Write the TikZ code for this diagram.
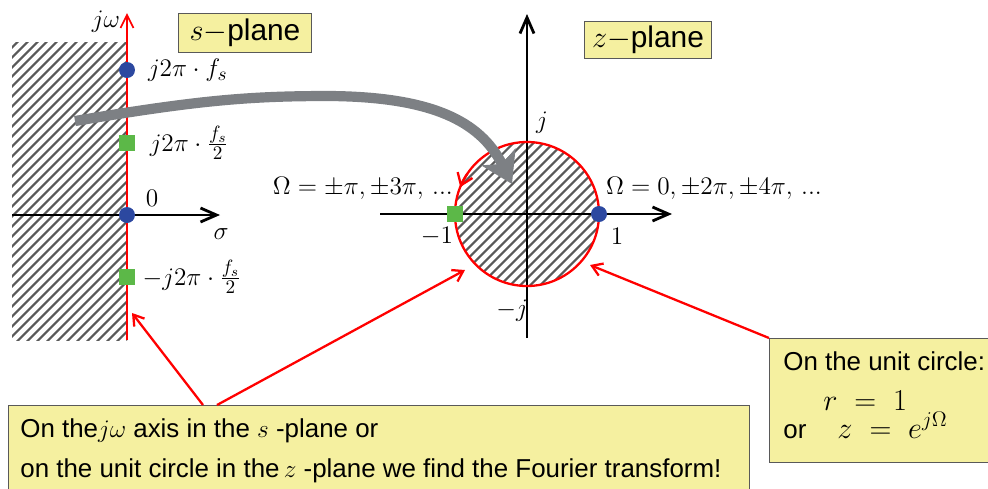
\documentclass[tikz,border=0pt]{standalone}
\usepackage{amsmath,amssymb}
\usepackage{fontspec}
\setsansfont{Liberation Sans}
\usepackage{tikz}
\usetikzlibrary{arrows.meta, positioning, patterns.meta}

\definecolor{boxyellow}{RGB}{245,240,160}
\definecolor{dotblue}{RGB}{44,72,160}
\definecolor{dotgreen}{RGB}{92,184,72}
\definecolor{arrowgray}{RGB}{125,128,132}
\definecolor{hatchgray}{RGB}{90,90,90}

\begin{document}
\begin{tikzpicture}[
        x=0.02cm, y=-0.02cm,
        ybox/.style={
            rectangle,
            draw=black!65,
            line width=0.8pt,
            fill=boxyellow,
            inner sep=0pt,
            font=\sffamily\fontsize{17}{20}\selectfont
        },
        note/.style={
            inner sep=0pt,
            anchor=base west,
            font=\sffamily\fontsize{14.75}{17}\selectfont
        },
        bdot/.style={
            circle,
            fill=dotblue,
            minimum size=3.2mm,
            inner sep=0pt
        },
        gsq/.style={
            rectangle,
            fill=dotgreen,
            minimum size=3.2mm,
            inner sep=0pt
        },
        lbl/.style={
            inner sep=1pt,
            font=\fontsize{13.5}{16}\selectfont
        },
        slbl/.style={
            inner sep=1pt,
            font=\fontsize{15.5}{18}\selectfont
        },
        hatch/.style={
            pattern={Lines[angle=45, distance=4pt, line width=1.3pt]},
            pattern color=hatchgray
        },
        axis/.style={
            line width=1.6pt,
            -{Straight Barb[length=3.2mm, width=2.8mm]}
        },
        raxis/.style={
            red,
            line width=1pt,
            -{Straight Barb[length=2.6mm, width=2.6mm]}
        },
        pointer/.style={
            red,
            line width=1.3pt,
            -{Straight Barb[length=2mm, width=2.6mm]}
        },
        bigarrow/.style={
            arrowgray,
            line width=5.8pt,
            -{Stealth[length=6mm, width=7.5mm, inset=1.5mm]}
        }
        ]

        \useasboundingbox (0,0) rectangle (988,488);
        \clip (0,0) rectangle (988,488);

        % s-plane
        \fill [hatch] (12,42) rectangle (127,340);
        \draw [axis] (12,215) -- (220,215);
        \draw [raxis] (127,340) -- (127,13);

        \node (s2) [bdot] at (127,70) {};
        \node (s1) [gsq] at (127,143) {};
        \node (s0) [bdot] at (127,215) {};
        \node (sm1) [gsq] at (127,277) {};

        \node [slbl, anchor=east] at (122,22) {$j\omega$};
        \node [slbl, right=6pt of s2] {$j2\pi\cdot f_s$};
        \node [slbl, right=7pt of s1] {$j2\pi\cdot \frac{f_s}{2}$};
        \node [lbl] at (152,198) {$0$};
        \node [slbl] at (221,234) {$\sigma$};
        \node [slbl, right=3pt of sm1] {$-j2\pi\cdot \frac{f_s}{2}$};

        \node (sbox) [ybox, minimum width=2.66cm, minimum height=0.78cm] at (245,33) {$s-$plane};

        % z-plane
        \coordinate (zc) at (527,214);
        \fill [hatch] (zc) circle (72);
        \draw [axis] (380,214) -- (672,214);
        \draw [axis] (527,338) -- (527,14);
        \draw [red, line width=1.3pt] (zc) circle (72);
        \draw [red, line width=1.3pt, -{Straight Barb[length=2.2mm, width=3.2mm]}]
            (zc) ++(-146:72) arc (-146:-158:72);

        \node (zm1) [gsq] at (455,214) {};
        \node (zp1) [bdot] at (599,214) {};

        \node [lbl] at (542,123) {$j$};
        \node [lbl] at (512,311) {$-j$};
        \node [lbl] at (437,236) {$-1$};
        \node [lbl] at (617,236) {$1$};
        \node [lbl, anchor=east] at (455,188) {$\Omega=\pm\pi,\pm3\pi,\,...$};
        \node [lbl, anchor=west] at (604,188) {$\Omega=0,\pm2\pi,\pm4\pi,\,...$};

        \node (zbox) [ybox, minimum width=2.54cm, minimum height=0.74cm] at (648,40) {$z-$plane};

        % boxes with the notes
        \node (fbox) [ybox, anchor=north west, minimum width=14.82cm, minimum height=2.3cm] at (8,405) {};
        \node (f1) [note] at (20,437) {On the$j\omega$ axis in the $s$ -plane or};
        \node (f2) [note] at (20,477) {on the unit circle in the$\,z$ -plane we find the Fourier transform!};

        \node (ubox) [ybox, anchor=north west, minimum width=4.82cm, minimum height=2.48cm] at (769,338) {};
        \node (u1) [note] at (783,370) {On the unit circle:};
        \node (u2) [note, font=\fontsize{17}{20}\selectfont] at (823,410) {$r\;=\;1$};
        \node (u3) [note] at (783,438) {or\hspace{1.2em}{\fontsize{17}{20}\selectfont$z\;=\;e^{j\Omega}$}};

        % pointers
        \coordinate (fa) at (203,405);
        \coordinate (fb) at (217,405);
        \coordinate (sax) at (132,313);
        \coordinate (zcl) at (465,270);
        \coordinate (zcr) at (590,265);
        \draw [pointer] (fa) -- (sax);
        \draw [pointer] (fb) -- (zcl);
        \draw [pointer] (ubox.north west) -- (zcr);

        % the mapping
        \coordinate (ga) at (75,121);
        \coordinate (gb) at (512,184);
        \draw [bigarrow] (ga) .. controls (200,100) and (250,96) .. (330,96)
            .. controls (430,97) and (480,120) .. (gb);

    \end{tikzpicture}
\end{document}
